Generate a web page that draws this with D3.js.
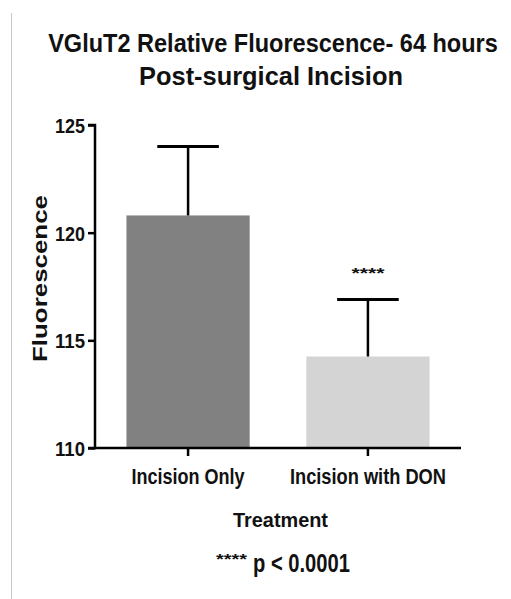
<!DOCTYPE html>
<html><head><meta charset="utf-8">
<script src="https://cdn.jsdelivr.net/npm/d3@7/dist/d3.min.js"></script>
<style>body{margin:0;background:#fff}svg{display:block}text{font-family:"Liberation Sans",Arial,sans-serif;font-weight:bold;fill:#111}</style>
</head><body><svg id="c" width="511" height="599"></svg>
<script>
const categories = ["Incision Only", "Incision with DON"];
const means = [120.8, 114.25];
const errUpper = [124.0, 116.9];
const barColors = ["#818181", "#d4d4d4"];
const sigLabels = ["", "****"];
const yTicks = [110, 115, 120, 125];

const svg = d3.select("#c");
svg.append("line").attr("x1",11.5).attr("x2",11.5).attr("y1",13).attr("y2",599).attr("stroke","#c8c8c8").attr("stroke-width",1);

const x = d3.scaleBand().domain(categories).range([95,461]).paddingInner(0.315).paddingOuter(0.175);
const y = d3.scaleLinear().domain([110,125]).range([448,125]);

function fit(sel, len){ sel.attr("textLength",len).attr("lengthAdjust","spacingAndGlyphs"); return sel; }
// place text at (px,py) and squeeze horizontally to width len via a transform
function squeezed(px, py, size, len, str, anchor){
  const gg = svg.append("g");
  const t = gg.append("text").attr("font-size",size).attr("text-anchor",anchor||"middle").text(str);
  const w = t.node().getComputedTextLength();
  gg.attr("transform","translate("+px+","+py+") scale("+(len/w)+",1)");
  return t;
}

const g = svg.append("g");
g.selectAll("rect.bar").data(categories).join("rect").attr("class","bar")
  .attr("x",d=>x(d)).attr("width",x.bandwidth())
  .attr("y",(d,i)=>y(means[i])).attr("height",(d,i)=>y(110)-y(means[i]))
  .attr("fill",(d,i)=>barColors[i]);

const capW = x.bandwidth()*0.5;
categories.forEach((c,i)=>{
  const cx = x(c)+x.bandwidth()/2;
  g.append("line").attr("x1",cx).attr("x2",cx).attr("y1",y(means[i])).attr("y2",y(errUpper[i])).attr("stroke","#000").attr("stroke-width",2.5);
  g.append("line").attr("x1",cx-capW/2).attr("x2",cx+capW/2).attr("y1",y(errUpper[i])).attr("y2",y(errUpper[i])).attr("stroke","#000").attr("stroke-width",3);
  if(sigLabels[i]) fit(g.append("text").attr("x",cx).attr("y",y(errUpper[i])-21).attr("text-anchor","middle").attr("font-size",15).text(sigLabels[i]),33);
});

const ya = svg.append("g").attr("transform","translate(95,0)")
  .call(d3.axisLeft(y).tickValues(yTicks).tickSize(7).tickPadding(3).tickFormat(d3.format("d")));
const xa = svg.append("g").attr("transform","translate(0,448)")
  .call(d3.axisBottom(x).tickSize(8).tickPadding(6));
[ya,xa].forEach(a=>{
  a.select(".domain").attr("stroke","#000").attr("stroke-width",2.5);
  a.selectAll(".tick line").attr("stroke","#000").attr("stroke-width",2.5);
  a.selectAll("text").attr("fill","#111").attr("font-family",null);
});
xa.select(".domain").attr("d","M95,0H461");
ya.select(".domain").attr("d","M-7,"+y(125)+"H0V"+y(110)+"H-7");
ya.selectAll(".tick text").attr("font-size",21).attr("dy","0.36em").attr("textLength",30).attr("lengthAdjust","spacingAndGlyphs");
const xLens = [113,156];
xa.selectAll(".tick text").attr("font-size",22).attr("dy","1.0em")
  .attr("textLength",(d,i)=>xLens[i]).attr("lengthAdjust","spacingAndGlyphs");

fit(svg.append("text").attr("transform","translate(47,278.5) rotate(-90)").attr("text-anchor","middle").attr("font-size",20).text("Fluorescence"),167);
squeezed(273,52,26,450,"VGluT2  Relative Fluorescence- 64 hours");
squeezed(271,85,26,264,"Post-surgical  Incision");
fit(svg.append("text").attr("x",280.5).attr("y",527).attr("text-anchor","middle").attr("font-size",21).text("Treatment"),95);
fit(svg.append("text").attr("x",216).attr("y",564).attr("font-size",15).text("****"),31);
fit(svg.append("text").attr("x",253).attr("y",572).attr("font-size",26).text("p < 0.0001"),97);
</script></body></html>
